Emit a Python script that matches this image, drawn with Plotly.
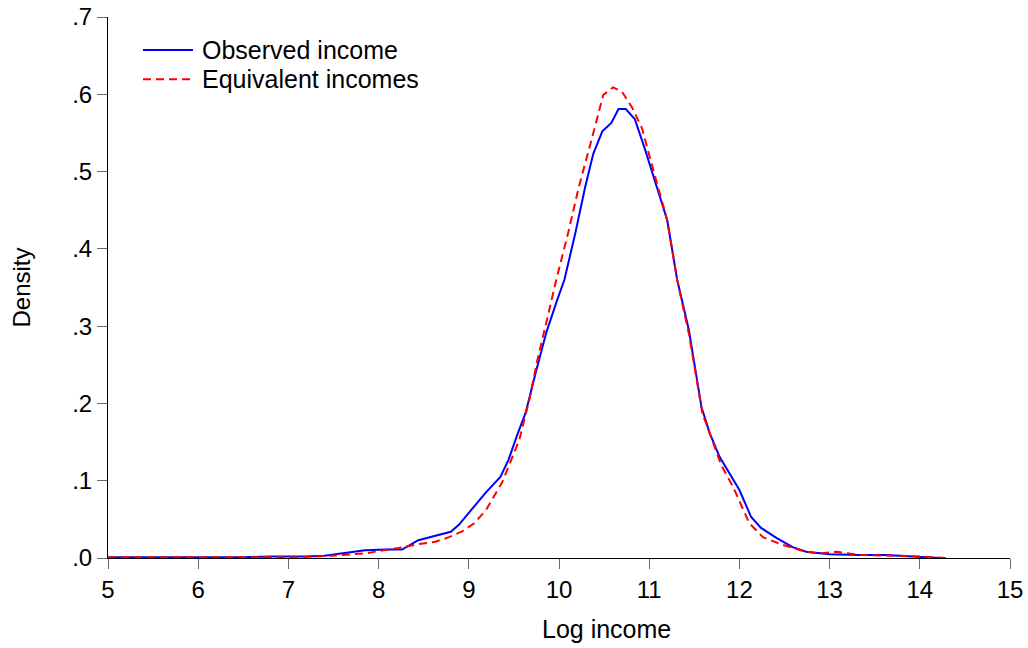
import plotly.graph_objects as go

# Observed income density (log income)
obs_x = [5.0, 5.5, 6.0, 6.5, 6.8, 7.2, 7.4, 7.67, 7.85, 8.08, 8.26, 8.44, 8.59, 8.7, 8.8,
         8.89, 9.0, 9.19, 9.35, 9.44, 9.53, 9.63, 9.74, 9.86, 9.98, 10.06, 10.18, 10.29,
         10.38, 10.48, 10.58, 10.66, 10.74, 10.84, 10.95, 11.07, 11.2, 11.31, 11.44,
         11.58, 11.67, 11.78, 11.91, 12.0, 12.13, 12.24, 12.41, 12.59, 12.74, 13.0,
         13.33, 13.63, 13.92, 14.22]
obs_y = [0.001, 0.001, 0.001, 0.001, 0.002, 0.002, 0.003, 0.007, 0.010, 0.011, 0.011,
         0.023, 0.028, 0.031, 0.034, 0.043, 0.058, 0.085, 0.105, 0.127, 0.157, 0.188,
         0.239, 0.292, 0.334, 0.360, 0.420, 0.480, 0.523, 0.552, 0.563, 0.581, 0.581,
         0.568, 0.530, 0.485, 0.437, 0.360, 0.295, 0.195, 0.162, 0.131, 0.105, 0.088,
         0.053, 0.039, 0.026, 0.014, 0.008, 0.005, 0.004, 0.004, 0.002, 0.000]

# Equivalent incomes density
eq_x = [5.0, 5.5, 6.0, 6.5, 7.1, 7.48, 7.85, 8.22, 8.44, 8.63, 8.78, 8.92, 9.06, 9.19,
        9.37, 9.44, 9.56, 9.67, 9.76, 9.87, 9.97, 10.1, 10.22, 10.39, 10.49, 10.6, 10.7,
        10.81, 10.92, 11.05, 11.2, 11.31, 11.44, 11.59, 11.7, 11.8, 11.93, 12.11, 12.26,
        12.48, 12.74, 12.9, 13.08, 13.33, 13.7, 14.0, 14.3]
eq_y = [0.001, 0.001, 0.001, 0.001, 0.001, 0.003, 0.006, 0.013, 0.018, 0.021, 0.027,
        0.034, 0.045, 0.062, 0.098, 0.118, 0.153, 0.204, 0.256, 0.310, 0.360, 0.420,
        0.480, 0.554, 0.599, 0.609, 0.603, 0.583, 0.556, 0.500, 0.437, 0.360, 0.290,
        0.187, 0.153, 0.120, 0.092, 0.045, 0.027, 0.017, 0.008, 0.006, 0.008, 0.004,
        0.003, 0.002, 0.000]

x_ticks = [5, 6, 7, 8, 9, 10, 11, 12, 13, 14, 15]
y_ticks = [0.0, 0.1, 0.2, 0.3, 0.4, 0.5, 0.6, 0.7]
y_tick_labels = [".0", ".1", ".2", ".3", ".4", ".5", ".6", ".7"]

series_names = ["Observed income", "Equivalent incomes"]
series_colors = ["#0000FF", "#FF0000"]
series_dash = ["solid", "8px,5px"]

FONT = "Liberation Sans, Arial, sans-serif"
FS = 24

fig = go.Figure()
fig.add_trace(go.Scatter(x=obs_x, y=obs_y, mode="lines", name=series_names[0],
                         line=dict(color=series_colors[0], width=2, dash=series_dash[0]),
                         showlegend=False))
fig.add_trace(go.Scatter(x=eq_x, y=eq_y, mode="lines", name=series_names[1],
                         line=dict(color=series_colors[1], width=2, dash=series_dash[1]),
                         showlegend=False))

# custom legend (long line samples like the reference)
leg_y = [0.939, 0.885]
for i in range(2):
    fig.add_shape(type="line", xref="paper", yref="paper",
                  x0=0.0388, x1=0.0942, y0=leg_y[i], y1=leg_y[i],
                  line=dict(color=series_colors[i], width=2, dash=series_dash[i]))
    fig.add_annotation(xref="paper", yref="paper", x=0.102, y=leg_y[i],
                       text=series_names[i], showarrow=False, xanchor="left",
                       yanchor="middle", font=dict(size=FS + 1, color="black", family=FONT))

# x-axis title (placed like the reference, slightly right of the plot centre)
fig.add_annotation(xref="paper", yref="paper", x=0.553, y=0, yshift=-71,
                   text="Log income", showarrow=False, xanchor="center",
                   yanchor="middle", font=dict(size=FS + 1, color="black", family=FONT))

fig.update_layout(
    width=1028, height=648,
    margin=dict(l=108, r=18, t=17, b=90),
    paper_bgcolor="white", plot_bgcolor="white",
    font=dict(family=FONT, size=FS, color="black"),
)
fig.update_xaxes(range=[5, 15], tickvals=x_ticks, ticks="outside", ticklen=10,
                 tickcolor="#666666", tickwidth=1, showline=True, linecolor="black",
                 linewidth=1, showgrid=False, zeroline=False, automargin=False,
                 ticklabeloverflow="allow", tickfont=dict(size=FS))
fig.update_yaxes(range=[0, 0.7], tickvals=y_ticks, ticktext=y_tick_labels,
                 ticks="outside", ticklen=10, tickcolor="#666666", tickwidth=1,
                 showline=True, linecolor="black", linewidth=1, showgrid=False,
                 zeroline=False, automargin=False, ticklabeloverflow="allow",
                 tickfont=dict(size=FS),
                 title=dict(text="Density", standoff=34, font=dict(size=FS)))

# remove the page's default 8px body margin so the 1028x648 figure fills the window
fig.write_html("out.html",
               config={"displayModeBar": False},
               post_script="document.body.style.margin='0';"
                           "document.body.style.overflow='hidden';")
